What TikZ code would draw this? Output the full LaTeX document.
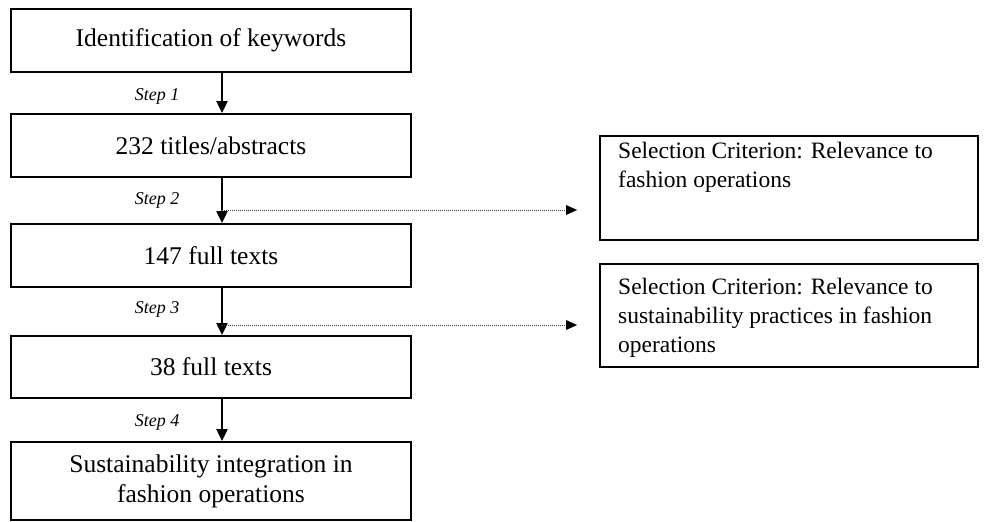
\documentclass[tikz,border=0pt]{standalone}
\usepackage{fontspec}
\setmainfont{Liberation Serif}
\usetikzlibrary{arrows.meta,calc}
\begin{document}
\begin{tikzpicture}[x=1pt,y=-1pt,
  leftbox/.style={draw=black,line width=1.8pt,minimum width=400pt,inner sep=0pt,font=\fontsize{25.5}{30}\selectfont,align=center},
  rightbox/.style={draw=black,line width=1.8pt,minimum width=378pt,inner sep=0pt},
  rtext/.style={anchor=west,inner sep=0pt,font=\fontsize{23.5}{29}\selectfont,align=left},
  steplab/.style={font=\itshape\fontsize{18}{20}\selectfont,inner sep=0pt},
  flow/.style={line width=2pt,-{Triangle[length=12pt,width=11pt]}},
  side/.style={line width=1pt,densely dotted,draw=black!75,-{Triangle[length=11pt,width=10pt,fill=black,color=black,line width=0pt]},shorten >=22pt}]
\useasboundingbox (0,0) rectangle (989,522);
\node[leftbox,minimum height=63pt] (b1) at (211,40.5) {Identification of keywords};
\node[leftbox,minimum height=63pt] (b2) at (211,145.5) {232 titles/abstracts};
\node[leftbox,minimum height=63pt] (b3) at (211,255.5) {147 full texts};
\node[leftbox,minimum height=62pt] (b4) at (211,367) {38 full texts};
\node[leftbox,minimum height=78pt] (b5) at (211,481) {Sustainability integration in\\fashion operations};
\node[rightbox,minimum height=104pt] (r1) at (789,188) {};
\node[rightbox,minimum height=103pt] (r2) at (789,315.5) {};
\node[rtext] (r1t) at (618,167) {Selection Criterion: Relevance to\\fashion operations};
\node[rtext] (r2t) at (618,318) {Selection Criterion: Relevance to\\sustainability practices in fashion\\operations};
\coordinate (ax) at (222,0);
\draw[flow] (b1.south -| ax) -- (b2.north -| ax);
\draw[flow] (b2.south -| ax) -- (b3.north -| ax);
\draw[flow] (b3.south -| ax) -- (b4.north -| ax);
\draw[flow] (b4.south -| ax) -- (b5.north -| ax);
\node[steplab] (s1) at (157,96) {Step 1};
\node[steplab] (s2) at (157,200) {Step 2};
\node[steplab] (s3) at (157,309) {Step 3};
\node[steplab] (s4) at (157,422) {Step 4};
\coordinate (j2) at (222,210);
\coordinate (j3) at (222,325);
\draw[side] (j2) -- (j2 -| r1.west);
\draw[side] (j3) -- (j3 -| r2.west);
\end{tikzpicture}
\end{document}
